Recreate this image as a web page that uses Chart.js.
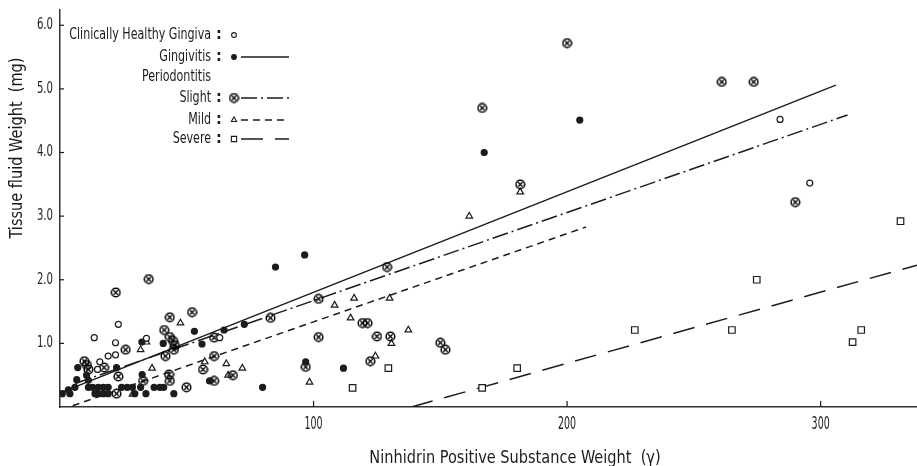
<!DOCTYPE html>
<html>
<head>
<meta charset="utf-8">
<script src="https://cdn.jsdelivr.net/npm/chart.js@4.4.1/dist/chart.umd.min.js"></script>
<style>
  html, body { margin: 0; padding: 0; background: #fff; }
  canvas { display: block; }
</style>
</head>
<body>
<canvas id="myChart" width="917" height="466"></canvas>
<script>
// values: [ninhidrin weight (γ), tissue fluid weight (mg)]
const healthy = [[13.5,1.09],[23,1.30],[21.9,1.01],[21.9,0.82],[19,0.80],[15.7,0.71],[14.8,0.59],
  [34.1,1.08],[63,1.09],[284,4.52],[295.7,3.52]];
const gingivitis = [[96.5,2.39],[85,2.2],[72.7,1.30],[64.7,1.21],[53,1.19],[56,0.99],[40.7,1.0],
  [32.3,1.02],[7,0.62],[22.3,0.62],[6.6,0.43],[10.5,0.50],[11.2,0.42],[5.9,0.31],[3.3,0.27],
  [3.9,0.21],[0.9,0.21],[11.2,0.31],[12.9,0.31],[15.1,0.31],[17.1,0.31],[19,0.31],[24.3,0.31],
  [26.5,0.31],[28.6,0.31],[31.8,0.31],[37.1,0.31],[39.4,0.31],[40.9,0.31],[13.8,0.21],[15.1,0.21],
  [17.1,0.21],[19,0.21],[29.5,0.21],[33.9,0.21],[44.9,0.21],[32.4,0.51],[59,0.41],[96.9,0.71],
  [111.8,0.61],[79.9,0.31],[167.3,4.0],[205,4.51]];
const slight = [[35,2.01],[22,1.80],[25.9,0.90],[9.6,0.72],[10.6,0.66],[11.2,0.59],[17.4,0.62],
  [23,0.48],[22.3,0.21],[43.3,1.41],[41.1,1.21],[43.3,1.10],[44.6,1.04],[45.3,0.97],[44.9,0.9],
  [41.6,0.80],[43,0.51],[32.8,0.41],[43.3,0.41],[49.9,0.31],[52.1,1.49],[60.8,1.09],[60.8,0.80],
  [56.4,0.59],[60.8,0.41],[68.2,0.50],[83,1.40],[102,1.70],[129,2.2],[119.3,1.32],[121.3,1.32],
  [102,1.10],[125,1.11],[130.3,1.11],[150,1.01],[152,0.9],[122.4,0.72],[96.9,0.63],[166.5,4.70],
  [200,5.72],[181.5,3.50],[261,5.11],[273.6,5.11],[290,3.22]];
const mild = [[31.8,0.90],[36.3,0.61],[47.5,1.32],[28.6,0.20],[57.1,0.71],[65.6,0.68],[66.3,0.50],
  [71.9,0.61],[34.1,1.02],[108.3,1.60],[116,1.71],[130,1.71],[114.6,1.40],[137.4,1.21],[130.7,1.0],
  [124.4,0.80],[98.4,0.39],[161.4,3.0],[181.5,3.38]];
const severe = [[115.4,0.30],[129.5,0.61],[166.5,0.30],[180.3,0.61],[226.7,1.21],[265,1.21],
  [274.8,2.0],[316,1.21],[312.6,1.02],[331.5,2.92]];

// regression lines, end points
const gingivitisFit = [[0.5,0.23],[306,5.06]];
const slightFit = [[6,0.37],[310.6,4.59]];
const mildFit = [[5,0.02],[207.5,2.83]];
const severeFit = [[138.6,0],[338,2.23]];

const xTicks = [100, 200, 300];
const yTicks = [1, 2, 3, 4, 5, 6];

const ink = '#1c1c1c';
const FONT = "'Liberation Sans Narrow', 'DejaVu Sans Condensed', sans-serif";

const pts = arr => arr.map(p => ({x: p[0], y: p[1]}));

// circle with a cross inside (⊗) for "Slight"
function crossCircle() {
  const c = document.createElement('canvas');
  c.width = 11; c.height = 11;
  const g = c.getContext('2d');
  g.strokeStyle = '#000';
  g.lineWidth = 1.5;
  g.beginPath(); g.arc(5.5, 5.5, 4.3, 0, Math.PI * 2); g.stroke();
  g.lineWidth = 1.3;
  g.beginPath();
  g.moveTo(3.3, 3.3); g.lineTo(7.7, 7.7);
  g.moveTo(7.7, 3.3); g.lineTo(3.3, 7.7);
  g.stroke();
  return c;
}
const slightMark = crossCircle();

function scatterSet(label, data, style, radius, fill) {
  return {
    label: label, data: pts(data), pointStyle: style, pointRadius: radius,
    pointBackgroundColor: fill, pointBorderColor: ink, pointBorderWidth: 1.2,
    showLine: false
  };
}
function fitSet(label, data, dash) {
  return {
    label: label, data: pts(data), showLine: true, borderColor: ink, borderWidth: 1.5,
    borderDash: dash, pointRadius: 0, fill: false
  };
}

const datasets = [
  scatterSet('Clinically Healthy Gingiva', healthy, 'circle', 3, '#fff'),
  scatterSet('Gingivitis', gingivitis, 'circle', 3, ink),
  scatterSet('Slight', slight, slightMark, 5, '#fff'),
  scatterSet('Mild', mild, 'triangle', 3.8, '#fff'),
  scatterSet('Severe', severe, 'rect', 4.6, '#fff'),
  fitSet('Gingivitis fit', gingivitisFit, []),
  fitSet('Slight fit', slightFit, [16, 4, 2, 4]),
  fitSet('Mild fit', mildFit, [7, 5]),
  fitSet('Severe fit', severeFit, [22, 12])
];

// key in the upper left: label, colon, marker, line sample
const legendRows = [
  {text: 'Clinically Healthy Gingiva', y: 35, mark: 0, fit: null},
  {text: 'Gingivitis', y: 57, mark: 1, fit: 5},
  {text: 'Periodontitis', y: 77, mark: null, fit: null},
  {text: 'Slight', y: 98, mark: 2, fit: 6},
  {text: 'Mild', y: 120, mark: 3, fit: 7},
  {text: 'Severe', y: 139, mark: 4, fit: 8}
];

// text squeezed sideways, like the narrow lettering of the original
function narrowText(ctx, text, x, y, align, sx) {
  ctx.save();
  ctx.translate(x, y);
  ctx.scale(sx, 1);
  ctx.textAlign = align;
  ctx.fillText(text, 0, 0);
  ctx.restore();
}

const figurePlugin = {
  id: 'figure',
  afterDraw(chart) {
    const ctx = chart.ctx;
    const xs = chart.scales.x, ys = chart.scales.y;
    const area = chart.chartArea;
    ctx.save();
    ctx.strokeStyle = ink;
    ctx.fillStyle = ink;
    ctx.textBaseline = 'middle';
    ctx.lineWidth = 1.2;
    // inward tick marks and tick labels
    ctx.font = '17px ' + FONT;
    xs.ticks.forEach(t => {
      const px = xs.getPixelForValue(t.value);
      ctx.beginPath(); ctx.moveTo(px, area.bottom); ctx.lineTo(px, area.bottom - 6); ctx.stroke();
      narrowText(ctx, String(t.value), px, area.bottom + 18, 'center', 0.62);
    });
    ctx.font = '15px ' + FONT;
    ys.ticks.forEach(t => {
      const py = ys.getPixelForValue(t.value);
      ctx.beginPath(); ctx.moveTo(area.left, py); ctx.lineTo(area.left + 4, py); ctx.stroke();
      narrowText(ctx, t.value.toFixed(1), area.left - 7, py, 'right', 0.75);
    });

    // axis titles
    ctx.font = '17px ' + FONT;
    narrowText(ctx, 'Ninhidrin Positive Substance Weight  (\u03B3)', 515, 459, 'center', 0.95);
    ctx.save();
    ctx.translate(18, 148);
    ctx.rotate(-Math.PI / 2);
    narrowText(ctx, 'Tissue fluid Weight  (mg)', 0, 0, 'center', 0.95);
    ctx.restore();

    // key
    legendRows.forEach(r => {
      ctx.font = '16px ' + FONT;
      narrowText(ctx, r.text, 211, r.y, 'right', 0.77);
      if (r.mark === null) return;
      ctx.font = 'bold 16px ' + FONT;
      narrowText(ctx, ':', 219, r.y, 'center', 1);
      const ds = chart.data.datasets[r.mark];
      ctx.fillStyle = ds.pointBackgroundColor;
      ctx.lineWidth = 1.1;
      Chart.helpers.drawPoint(ctx, {pointStyle: ds.pointStyle, radius: ds.pointRadius * 0.8,
        borderWidth: 1.1}, 234, r.y);
      ctx.fillStyle = ink;
      if (r.fit !== null) {
        const f = chart.data.datasets[r.fit];
        ctx.setLineDash(f.borderDash);
        ctx.lineWidth = 1.5;
        ctx.beginPath(); ctx.moveTo(241, r.y); ctx.lineTo(289, r.y); ctx.stroke();
        ctx.setLineDash([]);
      }
    });
    ctx.restore();
  }
};

const ctx = document.getElementById('myChart').getContext('2d');
const myChart = new Chart(ctx, {
  type: 'scatter',
  data: { datasets: datasets },
  options: {
    responsive: false,
    animation: false,
    layout: { autoPadding: false, padding: { top: 10, right: 0, left: 0, bottom: 0 } },
    plugins: { legend: { display: false }, tooltip: { enabled: false } },
    scales: {
      x: {
        type: 'linear', min: 0, max: 338,
        afterBuildTicks: axis => { axis.ticks = xTicks.map(v => ({value: v})); },
        afterFit: scale => {
          scale.height = 59;
          scale.paddingLeft = 0; scale.paddingRight = 0;
        },
        grid: { drawOnChartArea: false, drawTicks: false },
        border: { color: '#333', width: 1.5 },
        ticks: { display: false }
      },
      y: {
        type: 'linear', min: 0, max: 6.24,
        afterBuildTicks: axis => { axis.ticks = yTicks.map(v => ({value: v})); },
        afterFit: scale => {
          scale.width = 60;
          scale.paddingTop = 0; scale.paddingBottom = 0;
        },
        grid: { drawOnChartArea: false, drawTicks: false },
        border: { color: '#333', width: 1.5 },
        ticks: { display: false }
      }
    }
  },
  plugins: [figurePlugin]
});
</script>
</body>
</html>
